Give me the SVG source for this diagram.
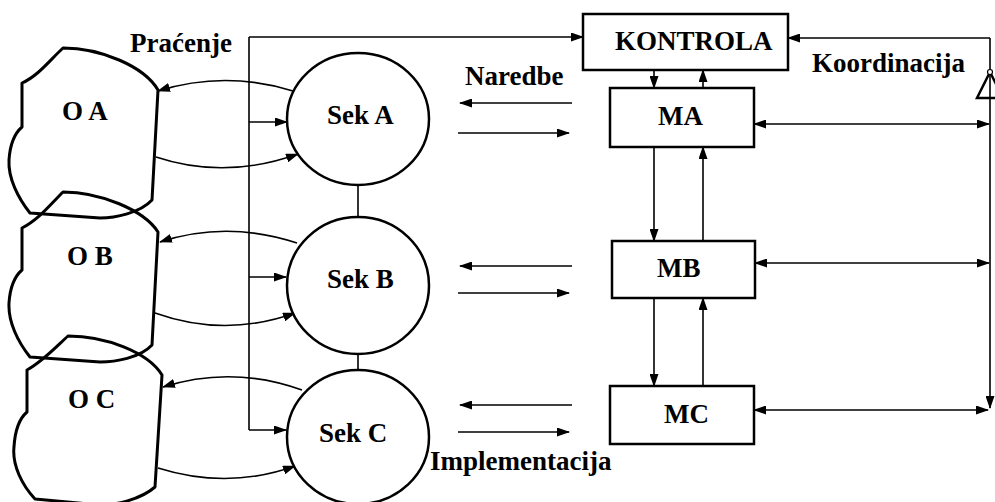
<svg xmlns="http://www.w3.org/2000/svg" width="995" height="502" viewBox="0 0 995 502">
<style>
text{font-family:'Liberation Serif','Times New Roman',serif;font-weight:bold;font-size:27px;fill:#000}
.blob{fill:none;stroke:#000;stroke-width:3;stroke-linejoin:round}
.sek{fill:#fff;stroke:#000;stroke-width:2.5}
.box{fill:#fff;stroke:#000;stroke-width:2.5}
.ln{fill:none;stroke:#000;stroke-width:1.6}
.a{marker-end:url(#ah)}
.ab{marker-end:url(#ah);marker-start:url(#ah)}
</style>
<defs>
<marker id="ah" markerUnits="userSpaceOnUse" markerWidth="13" markerHeight="9" refX="12" refY="4.5" orient="auto-start-reverse" viewBox="0 0 13 9">
<path d="M0,0 L13,4.5 L0,9 z" fill="#000"/>
</marker>
</defs>
<rect width="995" height="502" fill="#fff"/>

<g id="OC">
<path class="blob" d="M68,336 C105,336 148,352 162,375 L155,487 C140,500 115,505 100,505 L35,499 C22,485 12,465 14,447 C15,430 20,418 27,412 L27,370 C42,362 55,348 68,336 Z"/>
<text x="68" y="408">O C</text>
</g>
<g id="OB">
<path class="blob" d="M63,192 C100,192 144,210 158,232 L152,345 C140,358 115,362 100,362 L30,357 C18,342 8,322 9,303 C10,288 15,276 22,270 L22,228 C38,220 50,205 63,192 Z"/>
<text x="67" y="265">O B</text>
</g>
<g id="OA">
<path class="blob" d="M63,48 C100,48 144,66 158,90 L152,200 C140,213 115,218 100,218 L30,213 C18,198 8,178 9,160 C10,145 15,133 22,127 L22,83 C38,76 50,60 63,48 Z"/>
<text x="62" y="120">O A</text>
</g>

<g id="connectors">
<path class="ln" d="M249,430 L249,37"/>
<path class="ln a" d="M249,37 L583,37"/>
<path class="ln a" d="M249,122 L287,122"/>
<path class="ln a" d="M249,277 L286,277"/>
<path class="ln a" d="M249,430 L286,430"/>
<path class="ln" d="M358,185 L358,217"/>
<path class="ln" d="M358,354 L358,370"/>
<path class="ln a" d="M293,91 Q225,70 158,91"/>
<path class="ln a" d="M156,157 Q225,180 298,154"/>
<path class="ln a" d="M297,243 Q227,220 160,242"/>
<path class="ln a" d="M155,313 Q225,338 295,313"/>
<path class="ln a" d="M302,390 Q232,365 163,387"/>
<path class="ln a" d="M158,468 Q228,490 295,466"/>
<path class="ln a" d="M572,103 L460,103"/>
<path class="ln a" d="M458,133 L569,133"/>
<path class="ln a" d="M572,266 L460,266"/>
<path class="ln a" d="M458,293 L569,293"/>
<path class="ln a" d="M572,405 L460,405"/>
<path class="ln a" d="M458,432 L569,432"/>
<path class="ln a" d="M654,70 L654,88"/>
<path class="ln a" d="M703,88 L703,70"/>
<path class="ln a" d="M654,147 L654,241"/>
<path class="ln a" d="M703,241 L703,147"/>
<path class="ln a" d="M654,298 L654,386"/>
<path class="ln a" d="M703,386 L703,298"/>
<path class="ln a" d="M990,38 L788,38"/>
<path class="ln a" d="M990,38 L990,408"/>
<path class="ln ab" d="M754,124 L989,124"/>
<path class="ln ab" d="M755,263 L989,263"/>
<path class="ln ab" d="M754,410 L988,410"/>
<polygon points="990,72 977,98 1003,98" fill="none" stroke="#000" stroke-width="2.5"/>
<circle cx="990" cy="72" r="2.5" fill="#fff" stroke="#000" stroke-width="1.2"/>
</g>

<g id="SekA"><ellipse class="sek" cx="358" cy="119" rx="71" ry="66"/><text x="327" y="124">Sek A</text></g>
<g id="SekB"><ellipse class="sek" cx="358" cy="285.5" rx="71" ry="68.5"/><text x="327" y="288">Sek B</text></g>
<g id="SekC"><ellipse class="sek" cx="358" cy="437" rx="71" ry="67"/><text x="319" y="442">Sek C</text></g>

<g id="KONTROLA"><rect class="box" x="583" y="14" width="205" height="56"/><text x="615" y="50">KONTROLA</text></g>
<g id="MA"><rect class="box" x="610" y="88" width="144" height="59"/><text x="658" y="125">MA</text></g>
<g id="MB"><rect class="box" x="612" y="241" width="143" height="57"/><text x="657" y="277">MB</text></g>
<g id="MC"><rect class="box" x="610" y="386" width="144" height="58"/><text x="664" y="423">MC</text></g>

<g id="labels">
<text x="130" y="52">Praćenje</text>
<text x="465" y="85">Naredbe</text>
<text x="812" y="72">Koordinacija</text>
<text x="430" y="470">Implementacija</text>
</g>
</svg>
